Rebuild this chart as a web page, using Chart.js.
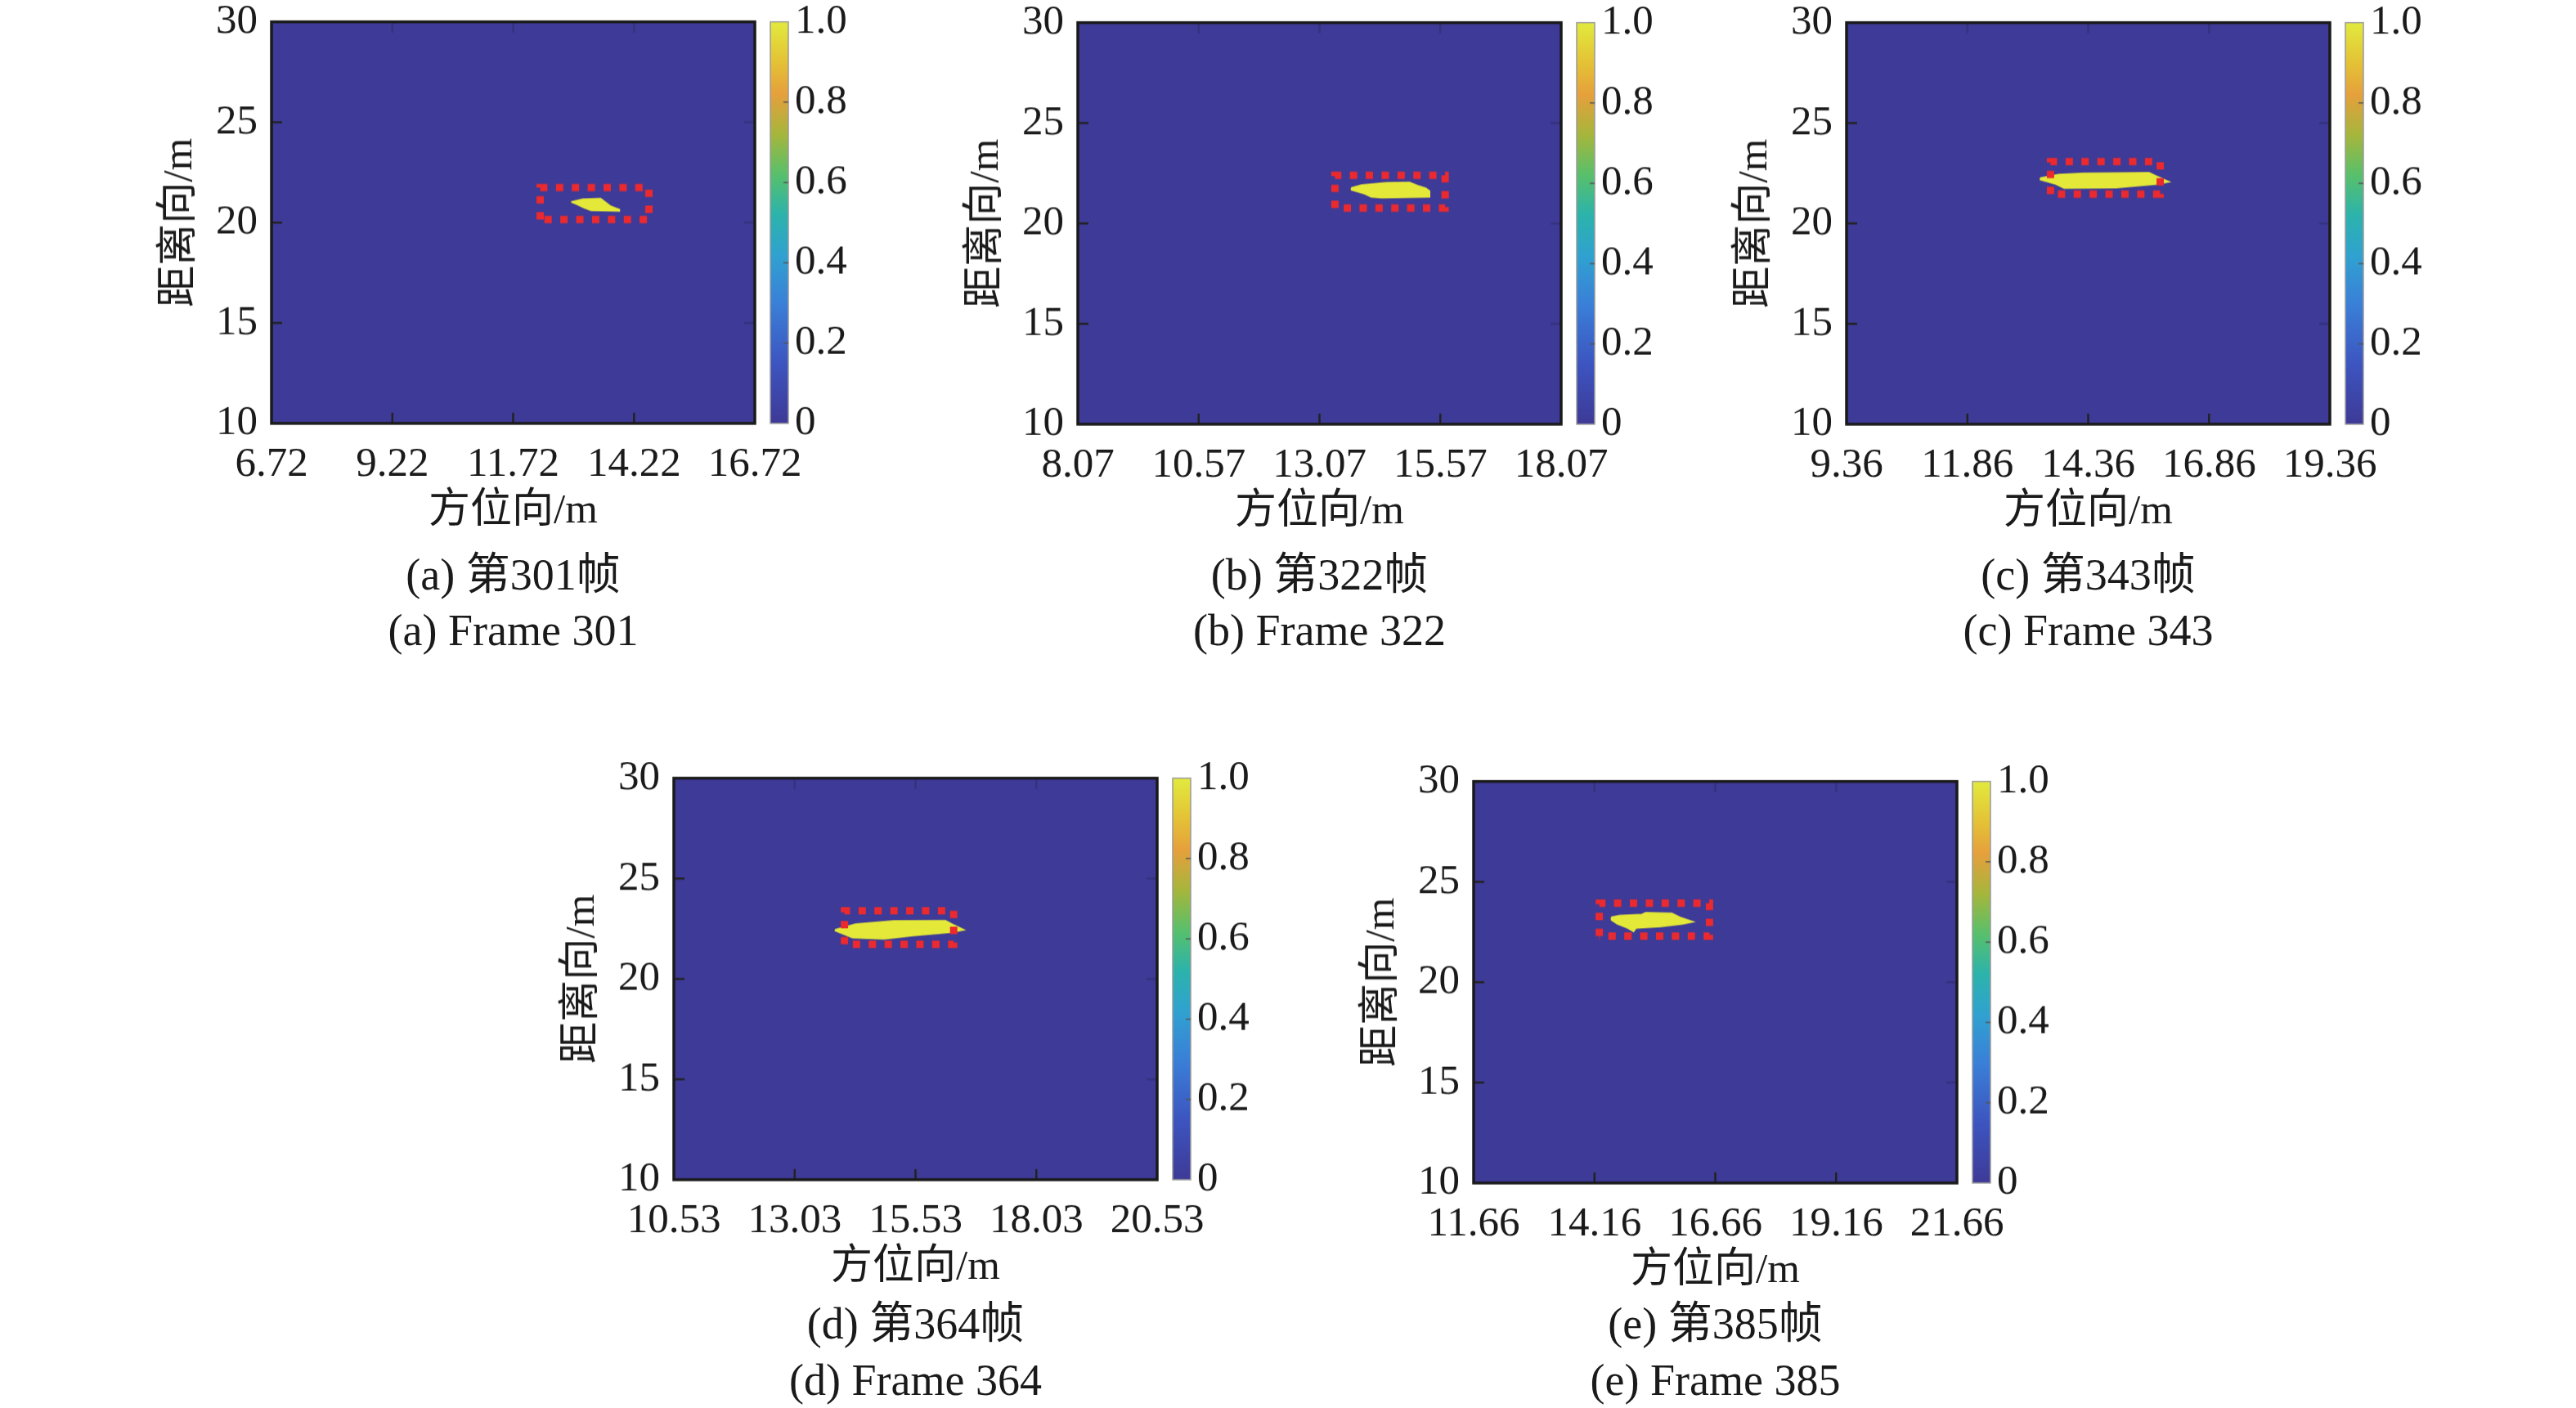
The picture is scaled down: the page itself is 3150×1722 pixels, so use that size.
<!DOCTYPE html>
<html>
<head>
<meta charset="utf-8">
<script src="https://cdn.jsdelivr.net/npm/chart.js@4.4.1/dist/chart.umd.min.js"></script>
<style>
  body { margin: 0; width: 3150px; height: 1722px; background: #fff; position: relative; overflow: hidden;
         font-family: 'Liberation Serif', 'Noto Sans CJK SC', serif; }
  canvas { position: absolute; }
  .cap { position: absolute; width: 800px; text-align: center; font-size: 54px; line-height: 54px;
         color: #1a1a1a; white-space: nowrap; }
</style>
</head>
<body>
<script>
// values
const letters = ['a', 'b', 'c', 'd', 'e'];
const frames = [301, 322, 343, 364, 385];
const xTicks = [
  [6.72, 9.22, 11.72, 14.22, 16.72],
  [8.07, 10.57, 13.07, 15.57, 18.07],
  [9.36, 11.86, 14.36, 16.86, 19.36],
  [10.53, 13.03, 15.53, 18.03, 20.53],
  [11.66, 14.16, 16.66, 19.16, 21.66]
];
const yTicks = [10, 15, 20, 25, 30];
const cbTicks = [0, 0.2, 0.4, 0.6, 0.8, 1.0];

// red dashed target boxes
const boxLeft = [12.28, 13.39, 13.58, 14.06, 14.26];
const boxRight = [14.53, 15.67, 15.85, 16.32, 16.54];
const boxBottom = [20.16, 20.77, 21.46, 21.73, 22.30];
const boxTop = [21.75, 22.40, 23.08, 23.40, 23.94];

// outlines of the detected (yellow) target, [azimuth, range]
const blobA = [[12.92, 21.03], [13.16, 21.17], [13.53, 21.20], [13.73, 20.83], [13.92, 20.65],
  [13.92, 20.57], [13.33, 20.60], [13.19, 20.73], [13.05, 20.90], [12.92, 21.03]];
const blobB = [[13.73, 21.78], [13.94, 21.92], [14.45, 22.03], [14.93, 22.05], [15.10, 21.89],
  [15.27, 21.76], [15.35, 21.62], [15.35, 21.32], [14.36, 21.28], [14.14, 21.32], [14.00, 21.48],
  [13.73, 21.67], [13.73, 21.78]];
const blobC = [[13.37, 22.27], [13.75, 22.44], [14.26, 22.50], [15.62, 22.53], [15.76, 22.37],
  [16.04, 22.07], [15.79, 21.96], [14.94, 21.78], [13.86, 21.76], [13.69, 21.96], [13.37, 22.18],
  [13.37, 22.27]];
const blobD = [[13.87, 22.46], [14.29, 22.73], [15.08, 22.90], [16.15, 22.91], [16.29, 22.73],
  [16.54, 22.44], [16.29, 22.33], [15.47, 22.15], [14.88, 21.99], [14.23, 22.05], [13.87, 22.40],
  [13.87, 22.46]];
const blobE = [[14.51, 23.24], [14.68, 23.33], [15.14, 23.38], [15.22, 23.47], [15.76, 23.44],
  [15.93, 23.24], [16.21, 23.01], [15.98, 22.90], [15.53, 22.76], [15.02, 22.69], [14.97, 22.52],
  [14.85, 22.69], [14.63, 22.90], [14.51, 23.10], [14.51, 23.24]];
const blobs = [blobA, blobB, blobC, blobD, blobE];

// layout (page pixels): plot area top-left of each panel, caption centres
const plotPos = [[332, 27], [1318, 28], [2258, 28], [824, 952], [1802, 956]];
const capY = [[703, 771], [703, 771], [703, 771], [1619, 1688], [1619, 1688]];
const plotW = 591, plotH = 491;
const padL = 260, padR = 130, padT = 40, padB = 150;

const BG = '#3e3a97';
const YELLOW = '#e4e838';
const FONT = "'Liberation Serif', 'Noto Sans CJK SC', serif";

Chart.defaults.font.family = FONT;
Chart.defaults.font.size = 51;
Chart.defaults.color = '#1a1a1a';

const heatPlugin = {
  id: 'heat',
  beforeDatasetsDraw(chart) {
    const { ctx, chartArea: a } = chart;
    ctx.save();
    ctx.fillStyle = BG;
    ctx.fillRect(a.left, a.top, a.right - a.left, a.bottom - a.top);
    ctx.restore();
  },
  afterDatasetsDraw(chart) {
    const { ctx, chartArea: a, scales } = chart;
    ctx.save();
    // inward ticks, MATLAB style
    ctx.lineWidth = 2.5;
    scales.x.ticks.forEach(t => {
      const px = scales.x.getPixelForValue(t.value);
      if (px < a.left + 2 || px > a.right - 2) return;
      ctx.strokeStyle = '#222';
      ctx.beginPath(); ctx.moveTo(px, a.bottom); ctx.lineTo(px, a.bottom - 13); ctx.stroke();
      ctx.strokeStyle = '#35327f';
      ctx.beginPath(); ctx.moveTo(px, a.top); ctx.lineTo(px, a.top + 13); ctx.stroke();
    });
    scales.y.ticks.forEach(t => {
      const py = scales.y.getPixelForValue(t.value);
      if (py < a.top + 2 || py > a.bottom - 2) return;
      ctx.strokeStyle = '#222';
      ctx.beginPath(); ctx.moveTo(a.left, py); ctx.lineTo(a.left + 13, py); ctx.stroke();
      ctx.strokeStyle = '#35327f';
      ctx.beginPath(); ctx.moveTo(a.right, py); ctx.lineTo(a.right - 13, py); ctx.stroke();
    });
    // box
    ctx.strokeStyle = '#1a1a1a';
    ctx.lineWidth = 3.5;
    ctx.strokeRect(a.left, a.top, a.right - a.left, a.bottom - a.top);

    // colour bar
    const cb = scales.y2;
    const top = cb.getPixelForValue(1), bot = cb.getPixelForValue(0);
    const x0 = a.right + 19, w = 22;
    const g = ctx.createLinearGradient(0, bot, 0, top);
    g.addColorStop(0.0, '#3e3a97');
    g.addColorStop(0.15, '#3d55c0');
    g.addColorStop(0.3, '#3a80d8');
    g.addColorStop(0.42, '#30a2d0');
    g.addColorStop(0.52, '#2cb3ac');
    g.addColorStop(0.62, '#58c06c');
    g.addColorStop(0.72, '#a6b63c');
    g.addColorStop(0.82, '#e6a03c');
    g.addColorStop(0.9, '#e4c236');
    g.addColorStop(1.0, '#e2ea3e');
    ctx.fillStyle = g;
    ctx.fillRect(x0, top, w, bot - top);
    ctx.strokeStyle = '#9a9a9a';
    ctx.lineWidth = 1.5;
    ctx.strokeRect(x0, top, w, bot - top);
    ctx.strokeStyle = '#555';
    cb.ticks.forEach(t => {
      const py = cb.getPixelForValue(t.value);
      if (py < top + 2 || py > bot - 2) return;
      ctx.beginPath(); ctx.moveTo(x0 + w, py); ctx.lineTo(x0 + w - 6, py); ctx.stroke();
    });
    ctx.restore();
  }
};

function buildChart(canvas, i) {
  const xt = xTicks[i];
  const rect = [
    { x: boxLeft[i], y: boxBottom[i] }, { x: boxLeft[i], y: boxTop[i] },
    { x: boxRight[i], y: boxTop[i] }, { x: boxRight[i], y: boxBottom[i] },
    { x: boxLeft[i], y: boxBottom[i] }
  ];
  return new Chart(canvas, {
    type: 'scatter',
    data: {
      datasets: [
        {
          data: rect, showLine: true, fill: false, order: 0,
          borderColor: '#ea2a2e', borderWidth: 9, borderDash: [9, 10.4],
          borderCapStyle: 'butt', borderJoinStyle: 'miter', pointRadius: 0, tension: 0
        },
        {
          data: blobs[i].map(p => ({ x: p[0], y: p[1] })), showLine: true, fill: 'shape', order: 1,
          backgroundColor: YELLOW, borderColor: YELLOW, borderWidth: 1.5, pointRadius: 0, tension: 0
        }
      ]
    },
    options: {
      responsive: false,
      maintainAspectRatio: false,
      animation: false,
      devicePixelRatio: 1,
      layout: { padding: 0 },
      plugins: { legend: { display: false }, tooltip: { enabled: false } },
      scales: {
        x: {
          type: 'linear', min: xt[0], max: xt[xt.length - 1],
          grid: { display: false, drawTicks: false }, border: { display: false },
          afterBuildTicks: s => { s.ticks = xt.map(v => ({ value: v })); },
          afterFit: s => { s.height = padB; },
          ticks: { padding: 20, maxRotation: 0, autoSkip: false, callback: v => v.toFixed(2) },
          title: { display: true, text: '方位向/m', font: { size: 51 }, padding: { top: 0, bottom: 12 } }
        },
        y: {
          type: 'linear', min: yTicks[0], max: yTicks[yTicks.length - 1],
          grid: { display: false, drawTicks: false }, border: { display: false },
          afterBuildTicks: s => { s.ticks = yTicks.map(v => ({ value: v })); },
          afterFit: s => { s.width = padL; },
          ticks: { padding: 17, callback: v => String(v) },
          title: { display: true, text: '距离向/m', font: { size: 51 }, padding: { top: 118, bottom: 0 } }
        },
        y2: {
          type: 'linear', position: 'right', min: 0, max: 1,
          grid: { display: false, drawTicks: false }, border: { display: false },
          afterBuildTicks: s => { s.ticks = cbTicks.map(v => ({ value: v })); },
          afterFit: s => { s.width = padR; },
          ticks: { padding: 49, callback: v => (v === 0 ? '0' : v.toFixed(1)) }
        }
      }
    },
    plugins: [heatPlugin]
  });
}

function makePanel(i) {
  const [pl, pt] = plotPos[i];
  const canvas = document.createElement('canvas');
  document.body.appendChild(canvas);
  let w = padL + plotW + padR, h = padT + plotH + padB;
  canvas.width = w; canvas.height = h;
  let chart = buildChart(canvas, i);
  // the layout adds its own room for labels: resize so the plot area is exactly plotW x plotH
  const a = chart.chartArea;
  const dw = plotW - (a.right - a.left), dh = plotH - (a.bottom - a.top);
  if (Math.abs(dw) > 0.5 || Math.abs(dh) > 0.5) {
    chart.destroy();
    w += dw; h += dh;
    canvas.width = w; canvas.height = h;
    canvas.style.width = w + 'px'; canvas.style.height = h + 'px';
    chart = buildChart(canvas, i);
  }
  canvas.style.left = (pl - chart.chartArea.left) + 'px';
  canvas.style.top = (pt - chart.chartArea.top) + 'px';

  const cx = pl + plotW / 2;
  const lines = ['(' + letters[i] + ') 第' + frames[i] + '帧', '(' + letters[i] + ') Frame ' + frames[i]];
  lines.forEach((txt, k) => {
    const d = document.createElement('div');
    d.className = 'cap';
    d.textContent = txt;
    d.style.left = (cx - 400) + 'px';
    d.style.top = (capY[i][k] - 27) + 'px';
    document.body.appendChild(d);
  });
}

letters.forEach((_, i) => makePanel(i));
</script>
</body>
</html>
